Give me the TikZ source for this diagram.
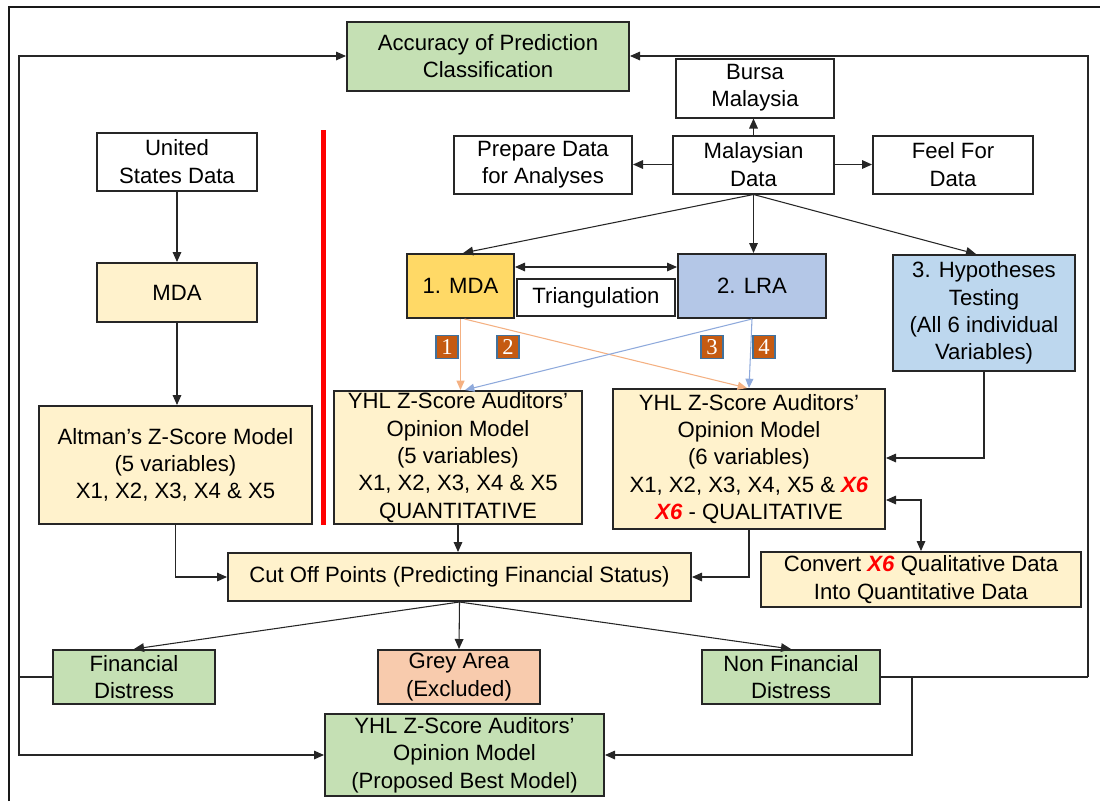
\documentclass[tikz,border=0pt]{standalone}
\usepackage{fontspec}
\setmainfont{Liberation Sans}
\newfontfamily\badgeserif{Liberation Serif}
\usetikzlibrary{arrows.meta}
\definecolor{gfill}{HTML}{C5E0B4}
\definecolor{yfill}{HTML}{FFF2CC}
\definecolor{gold}{HTML}{FFD966}
\definecolor{lrafill}{HTML}{B4C7E7}
\definecolor{hypfill}{HTML}{BDD7EE}
\definecolor{greyfill}{HTML}{F8CBAD}
\definecolor{oarr}{HTML}{F4B183}
\definecolor{barr}{HTML}{8FAADC}
\definecolor{badgefill}{HTML}{C55A11}
\definecolor{badgeline}{HTML}{41719C}
\newcommand\mainfs{\fontsize{16.6}{20.5}\selectfont}
\newcommand\xsix{\textcolor{red}{\textbf{\textit{X6}}}}
\begin{document}
\begin{tikzpicture}[x=0.75pt,y=-0.75pt,
  box/.style={draw=black!85, line width=1.5pt, align=center, inner sep=0pt, font=\mainfs, fill=white},
  sz/.style 2 args={minimum width=#1*0.75pt, minimum height=#2*0.75pt},
  conn/.style={draw=black!85, line width=0.8pt},
  arr/.style={conn, -{Triangle[length=7.5pt,width=6.5pt]}},
  darr/.style={conn, {Triangle[length=7.5pt,width=6.5pt]}-{Triangle[length=7.5pt,width=6.5pt]}},
  oarrow/.style={draw=oarr, line width=0.8pt, -{Triangle[length=7pt,width=6pt]}},
  barrow/.style={draw=barr, line width=0.8pt, -{Triangle[length=7pt,width=6pt]}},
  badge/.style={fill=badgefill, draw=badgeline, line width=1.2pt, minimum width=16.5pt, minimum height=17pt, inner sep=0pt, text=white, font=\badgeserif\fontsize{17}{17}\selectfont},
  frame/.style={draw=black!90, line width=1.8pt}
]
\useasboundingbox (0,0) rectangle (1100,801);
% outer frame
\draw[frame] (9,801) -- (9,7) -- (1100,7);
% red divider
\draw[draw=red, line width=3.75pt] (323,130) -- (323,525);

% boxes
\node[box, sz={282}{69}, fill=gfill] (acc) at (488,56) {Accuracy of Prediction\\Classification};
\node[box, sz={158}{59}] (bursa) at (755,88) {Bursa\\Malaysia};
\node[box, sz={178}{58}] (prep) at (543,164.5) {Prepare Data\\for Analyses};
\node[box, sz={161}{58}] (malay) at (753.5,164.5) {Malaysian\\Data};
\node[box, sz={160}{58}] (feel) at (953,164.5) {Feel For\\Data};
\node[box, sz={160}{58}] (us) at (177,161.5) {United\\States Data};
\node[box, sz={160}{59}, fill=yfill] (mdaL) at (177,292.5) {MDA};
\node[box, sz={107}{64}, fill=gold] (mda1) at (460.5,286) {1. MDA};
\node[box, sz={158}{37}] (tri) at (596,297.5) {Triangulation};
\node[box, sz={148}{64}, fill=lrafill] (lra) at (752,286) {2. LRA};
\node[box, sz={182}{116}, fill=hypfill] (hyp) at (984,313) {3. Hypotheses\\Testing\\(All 6 individual\\Variables)};
\node[box, sz={273}{118}, fill=yfill] (alt) at (175.5,465) {Altman’s Z-Score Model\\(5 variables)\\X1, X2, X3, X4 \& X5};
\node[box, sz={248}{133}, fill=yfill] (yhl5) at (458,457.5) {YHL Z-Score Auditors’\\Opinion Model\\(5 variables)\\X1, X2, X3, X4 \& X5\\QUANTITATIVE};
\node[box, sz={272}{140}, fill=yfill] (yhl6) at (749,459) {YHL Z-Score Auditors’\\Opinion Model\\(6 variables)\\X1, X2, X3, X4, X5 \& \xsix\\\xsix{} - QUALITATIVE};
\node[box, sz={320}{55}, fill=yfill] (conv) at (921,579.5) {Convert \xsix{} Qualitative Data\\Into Quantitative Data};
\node[box, sz={463}{48}, fill=yfill] (cut) at (459.5,577) {Cut Off Points (Predicting Financial Status)};
\node[box, sz={162}{54}, fill=gfill] (fin) at (134,677) {Financial\\Distress};
\node[box, sz={162}{54}, fill=greyfill] (grey) at (459,677) {Grey Area\\(Excluded)};
\node[box, sz={178}{54}, fill=gfill] (nonfin) at (791,677) {Non Financial\\Distress};
\node[box, sz={279}{82}, fill=gfill] (prop) at (464.5,755) {YHL Z-Score Auditors’\\Opinion Model\\(Proposed Best Model)};

% badges
\node[badge] (b1) at (447,347) {1};
\node[badge] (b2) at (508,347) {2};
\node[badge] (b3) at (712,347) {3};
\node[badge] (b4) at (764,347) {4};

% connectors from Malaysian Data
\draw[arr] (malay.north) -- (malay.north |- bursa.south);
\draw[arr] (malay.west) -- (prep.east);
\draw[arr] (malay.east) -- (feel.west);
\draw[arr] (malay.south) -- ([xshift=2pt]mda1.north);
\draw[arr] (malay.south) -- (malay.south |- lra.north);
\draw[arr] (malay.south) -- ([xshift=-6pt]hyp.north);
\draw[darr] ([yshift=14.25pt]mda1.east) -- ([yshift=14.25pt]lra.west);

% left column
\draw[arr] (us.south) -- (mdaL.north);
\draw[arr] (mdaL.south) -- (alt.north -| mdaL.south);
\draw[arr] (alt.south) |- (cut.west);
\draw[arr] (yhl5.south) -- (yhl5.south |- cut.north);
\draw[arr] (yhl6.south) |- (cut.east);
\draw[arr] (hyp.south) |- ([yshift=0.75pt]yhl6.east);
\draw[darr] ([yshift=-30.75pt]yhl6.east) -| (conv.north);

% coloured method arrows
\draw[oarrow] (mda1.south) -- (mda1.south |- yhl5.north);
\draw[oarrow] ([xshift=3pt]mda1.south) -- ([xshift=-1.5pt]yhl6.north);
\draw[barrow] (lra.south) -- ([xshift=5.25pt]yhl5.north);
\draw[barrow] (lra.south) -- (yhl6.north);

% cut off outcomes
\draw[arr] (cut.south) -- (fin.north);
\draw[arr] (cut.south) -- (grey.north);
\draw[arr] (cut.south) -- (nonfin.north);

% feedback loops
\coordinate (lj) at (19,677);
\coordinate (rj) at (1088,677);
\coordinate (rj2) at (912,677);
\draw[conn] (fin.west) -- (lj);
\draw[arr] (lj) |- (acc.west);
\draw[arr] (lj) |- (prop.west);
\draw[conn] (nonfin.east) -- (rj);
\draw[arr] (rj) |- (acc.east);
\draw[arr] (rj2) |- (prop.east);
\end{tikzpicture}
\end{document}
